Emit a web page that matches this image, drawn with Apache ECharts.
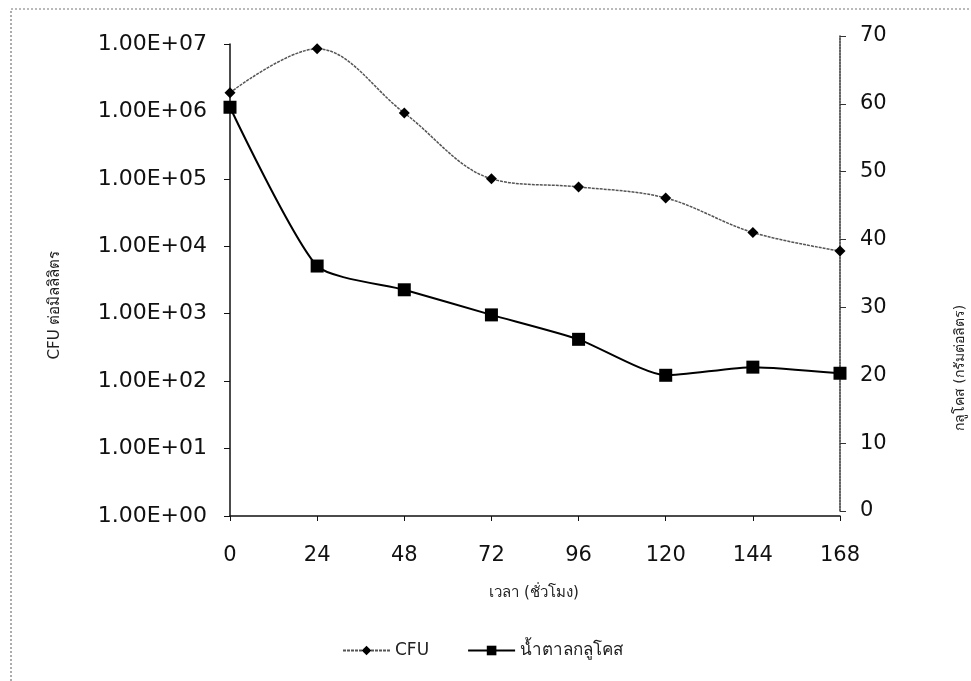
<!DOCTYPE html>
<html>
<head>
<meta charset="utf-8">
<script src="https://cdn.jsdelivr.net/npm/echarts@6/dist/echarts.min.js"></script>
<style>
html,body{margin:0;padding:0;background:#fff;}
#chart{width:971px;height:681px;}
</style>
</head>
<body>
<div id="chart"></div>
<script>
// ---- data ----
const hours = ['0', '24', '48', '72', '96', '120', '144', '168'];
const cfuValues = [1.9e6, 8.5e6, 9.5e5, 1.0e5, 7.6e4, 5.2e4, 1.6e4, 8.5e3];
const glucoseValues = [59.5, 36.1, 32.6, 28.9, 25.3, 20.0, 21.2, 20.3];
const leftTickLabels = ['1.00E+00', '1.00E+01', '1.00E+02', '1.00E+03', '1.00E+04', '1.00E+05', '1.00E+06', '1.00E+07'];
const rightTicks = [0, 10, 20, 30, 40, 50, 60, 70];
const seriesNames = ['CFU', 'น้ำตาลกลูโคส'];
const xTitle = 'เวลา (ชั่วโมง)';
const leftTitle = 'CFU ต่อมิลลิลิตร';
const rightTitle = 'กลูโคส (กรัมต่อลิตร)';

const FONT = 'DejaVu Sans, Verdana, sans-serif';
const chart = echarts.init(document.getElementById('chart'), null, {renderer: 'canvas'});

const option = {
  backgroundColor: '#ffffff',
  animation: false,
  grid: [
    {left: 230, right: 131, top: 44, bottom: 681 - 516, containLabel: false},
    {left: 230, right: 131, top: 36, bottom: 681 - 511, containLabel: false}
  ],
  legend: {
    data: seriesNames,
    left: 337,
    top: 637,
    itemWidth: 47,
    itemHeight: 12,
    itemGap: 38,
    textStyle: {fontFamily: FONT, fontSize: 17, color: '#222'}
  },
  xAxis: [
    {
      gridIndex: 0,
      type: 'category',
      data: hours,
      boundaryGap: false,
      axisLine: {show: true, lineStyle: {color: '#111', width: 1.5}},
      axisTick: {show: true, inside: false, length: 5, alignWithLabel: true, lineStyle: {color: '#111'}},
      axisLabel: {fontFamily: FONT, fontSize: 21, color: '#111', margin: 29},
      splitLine: {show: false}
    },
    {
      gridIndex: 1,
      type: 'category',
      data: hours,
      boundaryGap: false,
      show: false
    }
  ],
  yAxis: [
    {
      gridIndex: 0,
      type: 'log',
      logBase: 10,
      min: 1,
      max: 1e7,
      interval: 1,
      position: 'left',
      axisLine: {show: true, lineStyle: {color: '#111', width: 1.5}},
      axisTick: {show: true, inside: false, length: 6, lineStyle: {color: '#111'}},
      axisLabel: {
        fontFamily: FONT, fontSize: 22, color: '#111', margin: 23,
        formatter: function (v) { return leftTickLabels[Math.round(Math.log10(v))]; }
      },
      splitLine: {show: false},
      minorTick: {show: false}
    },
    {
      gridIndex: 1,
      type: 'value',
      min: rightTicks[0],
      max: rightTicks[rightTicks.length - 1],
      interval: 10,
      position: 'right',
      axisLine: {show: true, lineStyle: {color: '#333', width: 1.5, type: [2, 1]}},
      axisTick: {show: true, inside: false, length: 6, lineStyle: {color: '#333'}},
      axisLabel: {fontFamily: FONT, fontSize: 21, color: '#111', margin: 20},
      splitLine: {show: false}
    }
  ],
  series: [
    {
      name: seriesNames[0],
      type: 'line',
      xAxisIndex: 0,
      yAxisIndex: 0,
      data: cfuValues,
      smooth: 0.35,
      symbol: 'diamond',
      symbolSize: 11,
      itemStyle: {color: '#000'},
      lineStyle: {color: '#555', width: 1.5, type: [3, 1]},
      z: 3
    },
    {
      name: seriesNames[1],
      type: 'line',
      xAxisIndex: 1,
      yAxisIndex: 1,
      data: glucoseValues,
      smooth: 0.2,
      symbol: 'rect',
      symbolSize: 13,
      itemStyle: {color: '#000'},
      lineStyle: {color: '#000', width: 2},
      z: 4
    }
  ],
  graphic: [
    {
      type: 'rect',
      shape: {x: 11, y: 9, width: 1000, height: 720},
      style: {fill: 'none', stroke: '#777', lineWidth: 1.2, lineDash: [2, 2]},
      silent: true,
      z: -1
    },
    {
      type: 'text',
      x: 534, y: 593,
      style: {text: xTitle, font: '15px ' + FONT, fill: '#222', textAlign: 'center', textVerticalAlign: 'middle'}
    },
    {
      type: 'text',
      x: 55, y: 305,
      rotation: Math.PI / 2,
      style: {text: leftTitle, font: '15px ' + FONT, fill: '#222', textAlign: 'center', textVerticalAlign: 'middle'}
    },
    {
      type: 'text',
      x: 960, y: 368,
      rotation: Math.PI / 2,
      style: {text: rightTitle, font: '14px ' + FONT, fill: '#222', textAlign: 'center', textVerticalAlign: 'middle'}
    }
  ]
};
chart.setOption(option);
</script>
</body>
</html>
